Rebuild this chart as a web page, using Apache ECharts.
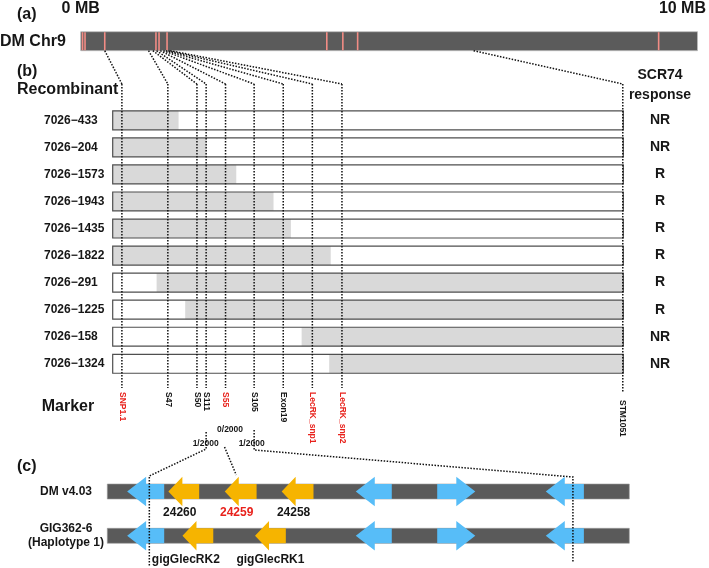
<!DOCTYPE html>
<html><head><meta charset="utf-8">
<script src="https://cdn.jsdelivr.net/npm/echarts@6/dist/echarts.min.js"></script>
<style>html,body{margin:0;padding:0;background:#fff}#c{width:709px;height:568px}</style>
</head><body><div id="c"></div>
<script>
const FONT = '"Liberation Sans", Arial, Helvetica, sans-serif';

// ---------- data ----------
const chrLengthMB = 10;
const chrMarkMB = [0.03, 0.07, 0.39, 1.22, 1.27, 1.40, 3.99, 4.25, 4.49, 9.37];

const recombinants = ['7026−433','7026−204','7026−1573','7026−1943','7026−1435','7026−1822','7026−291','7026−1225','7026−158','7026−1324'];
const responses = ['NR','NR','R','R','R','R','R','R','NR','NR'];
const greyFrom = [0, 0, 0, 0, 0, 0, 8.6, 14.2, 37.0, 42.4];
const greyTo = [12.9, 18.4, 24.2, 31.5, 34.9, 42.7, 100, 100, 100, 100];

const markers = ['SNP1.1','S47','S50','S111','S55','S105','Exon19','LecRK_snp1','LecRK_snp2','STM1051'];
const markerPos = [1.8, 10.8, 16.5, 18.3, 22.1, 27.7, 33.4, 39.1, 44.9, 99.9];
const markerChrMB = [0.39, 1.10, 1.17, 1.23, 1.29, 1.34, 1.38, 1.42, 1.45, 6.37];
const markerRed = [true, false, false, false, true, false, false, true, true, false];

const recFractions = ['1/2000', '0/2000', '1/2000'];
const recFractionMarker = ['S111', 'S55', 'S105'];

const tracks = ['DM v4.03', 'GIG362-6\n(Haplotype 1)'];
const geneTrack = [0, 0, 0, 0, 0, 0, 0, 1, 1, 1, 1, 1, 1];
const geneStart = [3.8, 11.7, 22.5, 33.4, 47.6, 63.2, 84.0, 3.8, 14.4, 28.3, 47.6, 63.2, 84.0];
const geneEnd = [10.9, 17.6, 28.6, 39.5, 54.5, 70.5, 91.3, 10.9, 20.3, 34.2, 54.5, 70.5, 91.3];
const geneDir = ['L','L','L','L','L','R','L','L','L','L','L','R','L'];
const geneType = ['other','LecRK','LecRK','LecRK','other','other','other','other','LecRK','LecRK','other','other','other'];
const geneLabel = ['', '24260', '24259', '24258', '', '', '', '', 'gigGlecRK2', 'gigGlecRK1', '', '', ''];
const geneLabelRed = ['24259'];
// positions of the zoom connectors on the gene map (same units as genes)
const zoomLinkTarget = [8.05, 24.7, 89.2];

// ---------- layout / style ----------
const LAY = {
  chr: {left: 80.7, top: 31.7, width: 616.8, height: 19},
  rec: {left: 112.7, top: 106.8, width: 510.6, height: 270.5},
  gene: {left: 107.3, top: 469.35, width: 522, height: 88.6}
};
const Y = {chrBottom: 50.7, bend: 84, lineEnd: 388, lineEndLast: 393, labelTop: 392, labelTopLast: 400};
const COL = {text: '#161616', red: '#e8221c', chr: '#5b5b5b', chrMark: '#f28c85', grey: '#d9d9d9',
  boxLine: '#4f4f4f', track: '#5a5a5a', blue: '#57bdf8', yellow: '#f6b400'};
const labelShift = {'24260': -4, '24259': -4, '24258': -4, 'gigGlecRK2': -12, 'gigGlecRK1': 0};
const labelDy = [21, 24];

const chart = echarts.init(document.getElementById('c'), null, {renderer: 'canvas'});

const valAxis = (gridIndex, max) => ({type: 'value', gridIndex, min: 0, max, show: false});
const catAxis = (gridIndex, data, extra) => Object.assign({
  type: 'category', gridIndex, data, inverse: true,
  axisLine: {show: false}, axisTick: {show: false}, splitLine: {show: false}
}, extra);
const lbl = (o) => Object.assign({interval: 0, color: COL.text, fontFamily: FONT, fontWeight: 'bold'}, o);

const dotted = {stroke: '#111', lineWidth: 1.5, lineDash: [1.5, 1.5], fill: null};

const option = {
  animation: false,
  grid: [
    Object.assign({outerBoundsMode: 'none', containLabel: false}, LAY.chr),
    Object.assign({outerBoundsMode: 'none', containLabel: false}, LAY.rec),
    Object.assign({outerBoundsMode: 'none', containLabel: false}, LAY.gene)
  ],
  xAxis: [valAxis(0, chrLengthMB), valAxis(1, 100), valAxis(2, 100)],
  yAxis: [
    catAxis(0, ['DM Chr9'], {axisLabel: lbl({align: 'left', margin: 80.7, fontSize: 16})}),
    catAxis(1, recombinants, {axisLabel: lbl({align: 'left', margin: 68.7, fontSize: 12})}),
    catAxis(1, recombinants, {position: 'right', axisLabel: lbl({align: 'center', margin: 36.7, fontSize: 14,
      formatter: (v, i) => responses[i]})}),
    catAxis(2, tracks, {axisLabel: lbl({align: 'center', margin: 41.3, fontSize: 12, lineHeight: 14})})
  ],
  series: [
    { // chromosome bar
      type: 'custom', xAxisIndex: 0, yAxisIndex: 0, z: 1,
      data: [[0, chrLengthMB, 0]], encode: {x: [0, 1], y: 2},
      renderItem: (p, api) => {
        const a = api.coord([api.value(0), api.value(2)]);
        const b = api.coord([api.value(1), api.value(2)]);
        const h = api.size([0, 1])[1];
        return {type: 'rect', shape: {x: a[0], y: a[1] - h / 2, width: b[0] - a[0], height: h},
          style: {fill: COL.chr, stroke: '#bdbdbd', lineWidth: 0.8}};
      }
    },
    { // marks on chromosome
      type: 'custom', xAxisIndex: 0, yAxisIndex: 0, z: 2,
      data: chrMarkMB.map(v => [v, 0]), encode: {x: 0, y: 1},
      renderItem: (p, api) => {
        const c = api.coord([api.value(0), api.value(1)]);
        const h = api.size([0, 1])[1];
        return {type: 'line', shape: {x1: c[0], y1: c[1] - h / 2 + 0.5, x2: c[0], y2: c[1] + h / 2 - 0.5},
          style: {stroke: COL.chrMark, lineWidth: 1.6}};
      }
    },
    { // recombinant boxes
      type: 'custom', xAxisIndex: 1, yAxisIndex: 1, z: 2,
      data: recombinants.map((r, i) => [greyFrom[i], greyTo[i], i]), encode: {x: [0, 1], y: 2},
      renderItem: (p, api) => {
        const row = api.value(2);
        const yc = api.coord([0, row])[1];
        const h = api.size([0, 1])[1] * 0.70;
        const x0 = api.coord([0, row])[0], x1 = api.coord([100, row])[0];
        const g0 = api.coord([api.value(0), row])[0], g1 = api.coord([api.value(1), row])[0];
        return {type: 'group', children: [
          {type: 'rect', shape: {x: x0, y: yc - h / 2, width: x1 - x0, height: h}, style: {fill: '#fff'}},
          {type: 'rect', shape: {x: g0, y: yc - h / 2, width: g1 - g0, height: h}, style: {fill: COL.grey}},
          {type: 'rect', shape: {x: x0, y: yc - h / 2, width: x1 - x0, height: h}, style: {fill: null, stroke: COL.boxLine, lineWidth: 1.2}}
        ]};
      }
    },
    { // marker lines and names
      type: 'custom', xAxisIndex: 1, yAxisIndex: 1, z: 5,
      data: markers.map((m, i) => [markerPos[i], 0]), encode: {x: 0, y: 1},
      renderItem: (p, api) => {
        const i = p.dataIndex;
        const last = i === markers.length - 1;
        const x = api.coord([api.value(0), 0])[0];
        return {type: 'group', children: [
          {type: 'line', shape: {x1: x, y1: Y.bend, x2: x, y2: last ? Y.lineEndLast : Y.lineEnd}, style: dotted},
          {type: 'text', x: x, y: last ? Y.labelTopLast : Y.labelTop, rotation: -Math.PI / 2,
            style: {text: markers[i], fill: markerRed[i] ? COL.red : COL.text, fontSize: 8.5, fontWeight: 'bold',
              fontFamily: FONT, align: 'left', verticalAlign: 'middle'}}
        ]};
      }
    },
    { // gene map tracks
      type: 'custom', xAxisIndex: 2, yAxisIndex: 3, z: 1,
      data: tracks.map((t, i) => [0, 100, i]), encode: {x: [0, 1], y: 2},
      renderItem: (p, api) => {
        const a = api.coord([api.value(0), api.value(2)]);
        const b = api.coord([api.value(1), api.value(2)]);
        return {type: 'rect', shape: {x: a[0], y: a[1] - 7.5, width: b[0] - a[0], height: 15},
          style: {fill: COL.track, stroke: '#9a9a9a', lineWidth: 0.6}};
      }
    },
    { // genes as arrows
      type: 'custom', xAxisIndex: 2, yAxisIndex: 3, z: 3,
      data: geneStart.map((s, i) => [s, geneEnd[i], geneTrack[i]]), encode: {x: [0, 1], y: 2},
      renderItem: (p, api) => {
        const i = p.dataIndex;
        const t = api.value(2);
        const a = api.coord([api.value(0), t]), b = api.coord([api.value(1), t]);
        const cy = a[1];
        const isL = geneType[i] === 'LecRK';
        const head = isL ? 14 : 19, bh = 7.5, hh = 14.8;
        let pts;
        if (geneDir[i] === 'L') {
          const tip = a[0], hb = tip + head, end = b[0];
          pts = [[tip, cy], [hb, cy - hh], [hb, cy - bh], [end, cy - bh], [end, cy + bh], [hb, cy + bh], [hb, cy + hh]];
        } else {
          const tip = b[0], hb = tip - head, st = a[0];
          pts = [[tip, cy], [hb, cy - hh], [hb, cy - bh], [st, cy - bh], [st, cy + bh], [hb, cy + bh], [hb, cy + hh]];
        }
        const children = [{type: 'polygon', shape: {points: pts}, style: {fill: isL ? COL.yellow : COL.blue}}];
        const lab = geneLabel[i];
        if (lab) {
          children.push({type: 'text', x: (a[0] + b[0]) / 2 + (labelShift[lab] || 0), y: cy + labelDy[t],
            style: {text: lab, fill: geneLabelRed.includes(lab) ? COL.red : COL.text, fontSize: 12,
              fontWeight: 'bold', fontFamily: FONT, align: 'center', verticalAlign: 'middle'}});
        }
        return {type: 'group', children};
      }
    }
  ]
};
chart.setOption(option);

// ---------- connectors and headings (positions converted through the axes) ----------
const cx = v => chart.convertToPixel({xAxisIndex: 0}, v);
const sx = v => chart.convertToPixel({xAxisIndex: 1}, v);
const gx = v => chart.convertToPixel({xAxisIndex: 2}, v);
const mx = name => sx(markerPos[markers.indexOf(name)]);

const txt = (text, x, y, size, align, extra) => Object.assign({type: 'text', x, y, z: 20,
  style: {text, fill: COL.text, fontSize: size, fontWeight: 'bold', fontFamily: FONT, align: align, verticalAlign: 'middle'}}, extra || {});
const poly = (points) => ({type: 'polyline', z: 15, shape: {points}, style: dotted});

const graphics = [
  txt('(a)', 17, 15, 16, 'left'),
  txt('0 MB', cx(0), 9, 16, 'center'),
  txt('10 MB', 706, 9, 16, 'right'),
  txt('(b)', 17, 72, 16, 'left'),
  txt('Recombinant', 17, 90, 16, 'left'),
  txt('SCR74', 660, 75, 14, 'center'),
  txt('response', 660, 95, 14, 'center'),
  txt('Marker', 41.7, 407, 16, 'left'),
  txt('(c)', 17, 467, 16, 'left')
];
markers.forEach((m, i) => {
  graphics.push(poly([[cx(markerChrMB[i]), Y.chrBottom], [sx(markerPos[i]), Y.bend]]));
});
// recombination fraction labels
const fracDx = [-0.5, 4.5, -2.5];
const fracY = [444, 430, 444];
recFractions.forEach((f, i) => {
  graphics.push(txt(f, mx(recFractionMarker[i]) + fracDx[i], fracY[i], 8.5, 'center', {z: 14}));
});
// zoom connectors to the gene map
const xl = mx('S111'), xm = mx('S55'), xr = mx('S105');
graphics.push(poly([[xl, 432], [xl, 449], [gx(zoomLinkTarget[0]), 476], [gx(zoomLinkTarget[0]), 567]]));
graphics.push(poly([[xm - 1, 447], [gx(zoomLinkTarget[1]), 475]]));
graphics.push(poly([[xr, 430], [xr, 450], [gx(zoomLinkTarget[2]), 477], [gx(zoomLinkTarget[2]), 563]]));

chart.setOption({graphic: graphics});
</script>
</body></html>
